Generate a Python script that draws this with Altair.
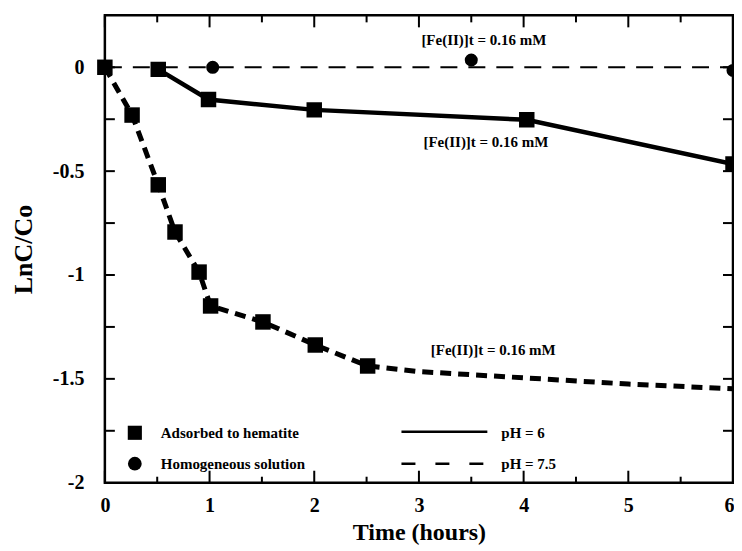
import altair as alt
import pandas as pd

# ---- data ----
# Adsorbed to hematite, pH 7.5 (thick dashed line with squares)
ads75_x = [0.0, 0.26, 0.51, 0.67, 0.90, 1.01, 1.51, 2.01, 2.51]
ads75_y = [0.0, -0.23, -0.566, -0.793, -0.986, -1.149, -1.226, -1.337, -1.438]
# continuation of the pH 7.5 curve (no markers)
ads75_fit_x = [2.51, 3.0, 4.0, 5.0, 6.0]
ads75_fit_y = [-1.438, -1.465, -1.495, -1.525, -1.548]

# Adsorbed to hematite, pH 6 (solid line with squares)
ads6_x = [0.51, 0.99, 2.0, 4.03, 6.0]
ads6_y = [-0.01, -0.155, -0.205, -0.253, -0.466]

# Homogeneous solution, pH 7.5 (thin dashed line with circles)
hom_line_x = [0.0, 6.0]
hom_line_y = [0.0, 0.0]
hom_x = [1.03, 3.5, 6.0]
hom_y = [0.0, 0.035, -0.015]

# annotations
ann_x = [3.62, 3.64, 3.71]
ann_y = [0.13, -0.36, -1.36]
ann_text = ["[Fe(II)]t = 0.16 mM", "[Fe(II)]t = 0.16 mM", "[Fe(II)]t = 0.16 mM"]

# axis ticks
x_labels = [0, 1, 2, 3, 4, 5, 6]
x_minor = [0.5, 1.5, 2.5, 3.5, 4.5, 5.5]
y_labels = [-2, -1.5, -1, -0.5, 0]
y_ticks = [-1.75, -1.5, -1.25, -1.0, -0.75, -0.5, -0.25, 0.0]

# legend
legend_marker_text = ["Adsorbed to hematite", "Homogeneous solution"]
legend_line_text = ["pH = 6", "pH = 7.5"]

W, H = 629, 468
FONT = "Liberation Serif"

xs = alt.Scale(domain=[0, 6], nice=False, zero=False)
ys = alt.Scale(domain=[-2, 0.25], nice=False, zero=False)

X_AXIS = alt.Axis(values=x_labels, ticks=False, domain=False, grid=False,
                  labelFont=FONT, labelFontWeight="bold", labelFontSize=20,
                  labelPadding=13, labelColor="black",
                  labelAlign={"condition": {"test": "datum.value == 6", "value": "right"},
                              "value": "center"},
                  labelOffset={"condition": {"test": "datum.value == 6", "value": 1},
                               "value": 0},
                  titleFont=FONT, titleFontWeight="bold", titleFontSize=24,
                  titlePadding=5, titleColor="black", labelFlush=False)
Y_AXIS = alt.Axis(values=y_labels, ticks=False, domain=False, grid=False,
                  labelExpr="'' + datum.value",
                  labelFont=FONT, labelFontWeight="bold", labelFontSize=20,
                  labelPadding=21, labelColor="black",
                  titleFont=FONT, titleFontWeight="bold", titleFontSize=26,
                  titlePadding=16, titleColor="black", labelFlush=False)


def X():
    return alt.X("x:Q", scale=xs, axis=X_AXIS, title="Time (hours)")


def Y():
    return alt.Y("y:Q", scale=ys, axis=Y_AXIS, title="LnC/Co")


# tick marks (inward, all four sides)
xmaj = pd.DataFrame({"x": x_labels})
xmin = pd.DataFrame({"x": x_minor})
yt = pd.DataFrame({"y": y_ticks})

tk = dict(color="black", strokeWidth=2)
ticks = [
    alt.Chart(xmaj).mark_rule(**tk).encode(x=X(), y=alt.value(H), y2=alt.value(H - 12)),
    alt.Chart(xmin).mark_rule(**tk).encode(x=X(), y=alt.value(H), y2=alt.value(H - 6)),
    alt.Chart(xmaj).mark_rule(**tk).encode(x=X(), y=alt.value(0), y2=alt.value(12)),
    alt.Chart(xmin).mark_rule(**tk).encode(x=X(), y=alt.value(0), y2=alt.value(7)),
    alt.Chart(yt).mark_rule(**tk).encode(y=Y(), x=alt.value(0), x2=alt.value(10)),
    alt.Chart(yt).mark_rule(**tk).encode(y=Y(), x=alt.value(W), x2=alt.value(W - 10)),
]

# series
hom_line_df = pd.DataFrame({"x": hom_line_x, "y": hom_line_y})
hom_df = pd.DataFrame({"x": hom_x, "y": hom_y})
ads6_df = pd.DataFrame({"x": ads6_x, "y": ads6_y})
ads75_df = pd.DataFrame({"x": ads75_x, "y": ads75_y})
ads75_fit_df = pd.DataFrame({"x": ads75_fit_x, "y": ads75_fit_y})
ads75_line_df = pd.concat([ads75_df, ads75_fit_df.iloc[1:]], ignore_index=True)
ads75_line_df["o"] = range(len(ads75_line_df))

hom_line = alt.Chart(hom_line_df).mark_line(
    color="black", strokeWidth=2, strokeDash=[17, 11], clip=True
).encode(x=X(), y=Y())
hom_pts = alt.Chart(hom_df).mark_point(
    shape="circle", filled=True, color="black", size=170, opacity=1, clip=True
).encode(x=X(), y=Y())

ads6_line = alt.Chart(ads6_df).mark_line(
    color="black", strokeWidth=4.5, clip=True
).encode(x=X(), y=Y())
ads6_pts = alt.Chart(ads6_df).mark_point(
    shape="square", filled=True, color="black", size=240, opacity=1, clip=True
).encode(x=X(), y=Y())

ads75_line = alt.Chart(ads75_line_df).mark_line(
    color="black", strokeWidth=5, strokeDash=[11, 7], clip=True
).encode(x=X(), y=Y(), order="o:Q")
ads75_pts = alt.Chart(ads75_df).mark_point(
    shape="square", filled=True, color="black", size=240, opacity=1
).encode(x=X(), y=Y())

ann_df = pd.DataFrame({"x": ann_x, "y": ann_y, "t": ann_text})
ann = alt.Chart(ann_df).mark_text(
    font=FONT, fontWeight="bold", fontSize=15, color="black", align="center", baseline="middle"
).encode(x=X(), y=Y(), text="t:N")

# legend (drawn inside the plot)
lg_m = pd.DataFrame({"t": legend_marker_text, "r": [0, 1]})
lg_l = pd.DataFrame({"t": legend_line_text, "r": [0, 1]})
ROW = [418, 449]
txt = dict(font=FONT, fontWeight="bold", fontSize=15, align="left", baseline="middle", color="black")
leg_sq = alt.Chart(lg_m.iloc[:1]).mark_point(
    shape="square", filled=True, color="black", size=200, opacity=1
).encode(x=alt.value(30), y=alt.value(ROW[0]))
leg_ci = alt.Chart(lg_m.iloc[1:]).mark_point(
    shape="circle", filled=True, color="black", size=190, opacity=1
).encode(x=alt.value(30), y=alt.value(ROW[1]))
leg_t1 = alt.Chart(lg_m.iloc[:1]).mark_text(**txt).encode(
    x=alt.value(56), y=alt.value(ROW[0]), text="t:N")
leg_t2 = alt.Chart(lg_m.iloc[1:]).mark_text(**txt).encode(
    x=alt.value(56), y=alt.value(ROW[1]), text="t:N")
leg_solid = alt.Chart(lg_l.iloc[:1]).mark_rule(color="black", strokeWidth=2.5).encode(
    x=alt.value(297), x2=alt.value(383), y=alt.value(ROW[0] - 1))
leg_dash = alt.Chart(lg_l.iloc[1:]).mark_rule(
    color="black", strokeWidth=2.5, strokeDash=[14, 20]).encode(
    x=alt.value(297), x2=alt.value(383), y=alt.value(ROW[1]))
leg_t3 = alt.Chart(lg_l.iloc[:1]).mark_text(**txt).encode(
    x=alt.value(397), y=alt.value(ROW[0]), text="t:N")
leg_t4 = alt.Chart(lg_l.iloc[1:]).mark_text(**txt).encode(
    x=alt.value(397), y=alt.value(ROW[1]), text="t:N")

chart = alt.layer(
    *ticks,
    hom_line, ads6_line, ads75_line,
    hom_pts, ads6_pts, ads75_pts,
    ann,
    leg_sq, leg_ci, leg_t1, leg_t2, leg_solid, leg_dash, leg_t3, leg_t4,
).properties(
    width=W, height=H,
    padding={"left": 2, "top": 6, "right": 0, "bottom": 0},
    background="white",
).configure_view(
    stroke="black", strokeWidth=2.5
)

chart.save("out.html", embed_options={"renderer": "svg", "actions": False})
